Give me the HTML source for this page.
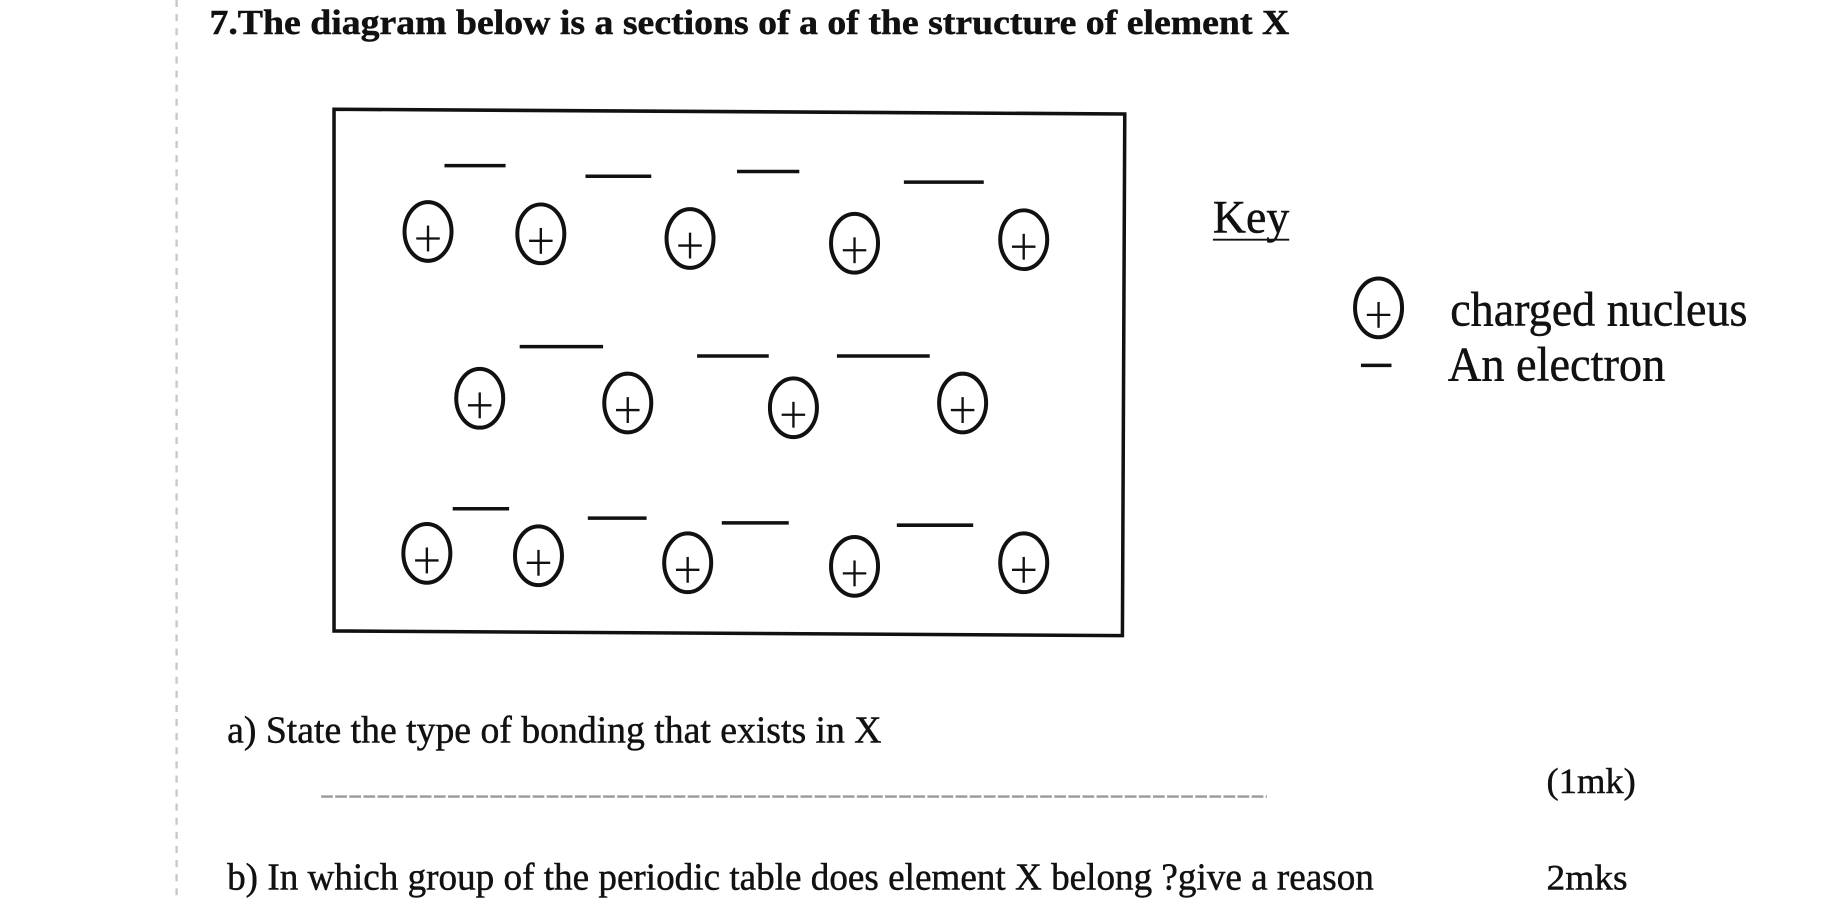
<!DOCTYPE html>
<html><head><meta charset="utf-8"><style>
html,body{margin:0;padding:0;background:#fff;width:1843px;height:900px;overflow:hidden}
svg{display:block}
text{font-family:"Liberation Serif",serif;fill:#111;stroke:#111;stroke-width:0.4}
</style></head><body>
<svg width="1843" height="900" viewBox="0 0 1568 766" xmlns="http://www.w3.org/2000/svg">
<defs>
<g id="nuc">
<ellipse cx="0" cy="0" rx="20" ry="25" fill="none" stroke="#111" stroke-width="3.4"/>
<line x1="-10" y1="6" x2="10" y2="6" stroke="#111" stroke-width="2"/>
<line x1="0" y1="-5" x2="0" y2="17" stroke="#111" stroke-width="2"/>
</g>
</defs>
<line x1="150" y1="0" x2="150" y2="766" stroke="#c8c8c8" stroke-width="2" stroke-dasharray="6,6"/>
<text x="178" y="29" font-size="30" font-weight="bold" textLength="919" lengthAdjust="spacingAndGlyphs">7.The diagram below is a sections of a of  the structure of  element X</text>
<polygon points="284,93 957,97 955,541 284,537" fill="none" stroke="#111" stroke-width="3"/>
<use href="#nuc" x="364" y="197"/><use href="#nuc" x="460" y="199"/><use href="#nuc" x="587" y="203"/><use href="#nuc" x="727" y="207"/><use href="#nuc" x="871" y="204"/>
<use href="#nuc" x="408" y="339"/><use href="#nuc" x="534" y="343"/><use href="#nuc" x="675" y="347"/><use href="#nuc" x="819" y="343"/>
<use href="#nuc" x="363" y="471"/><use href="#nuc" x="458" y="473"/><use href="#nuc" x="585" y="479"/><use href="#nuc" x="727" y="482"/><use href="#nuc" x="871" y="479"/>
<g stroke="#111" stroke-width="3">
<line x1="378" y1="141" x2="430" y2="141"/><line x1="498" y1="150" x2="554" y2="150"/><line x1="627" y1="146" x2="680" y2="146"/><line x1="769" y1="155" x2="837" y2="155"/>
<line x1="442" y1="295" x2="513" y2="295"/><line x1="593" y1="303" x2="654" y2="303"/><line x1="712" y1="303" x2="791" y2="303"/>
<line x1="385" y1="433" x2="433" y2="433"/><line x1="500" y1="441" x2="550" y2="441"/><line x1="614" y1="445" x2="671" y2="445"/><line x1="763" y1="447" x2="828" y2="447"/>
<line x1="1158" y1="311" x2="1184" y2="311"/>
<line x1="1032" y1="204" x2="1097" y2="204" stroke-width="1.5"/>
</g>
<text x="1032" y="198" font-size="40" textLength="65" lengthAdjust="spacingAndGlyphs">Key</text>
<use href="#nuc" x="1173" y="262"/>
<text x="1234" y="277" font-size="41" textLength="253" lengthAdjust="spacingAndGlyphs">charged nucleus</text>
<text x="1232" y="324" font-size="41" textLength="185" lengthAdjust="spacingAndGlyphs">An electron</text>
<text x="193" y="632" font-size="32" textLength="557" lengthAdjust="spacingAndGlyphs">a) State the type of  bonding that exists in X</text>
<line x1="273" y1="678" x2="1078" y2="678" stroke="#999" stroke-width="2" stroke-dasharray="10,2"/>
<text x="1316" y="675" font-size="31" textLength="76" lengthAdjust="spacingAndGlyphs">(1mk)</text>
<text x="193" y="757" font-size="32" textLength="976" lengthAdjust="spacingAndGlyphs">b) In which group of the periodic table does element X belong ?give a reason</text>
<text x="1316" y="757" font-size="31" textLength="69" lengthAdjust="spacingAndGlyphs">2mks</text>
</svg>
</body></html>
